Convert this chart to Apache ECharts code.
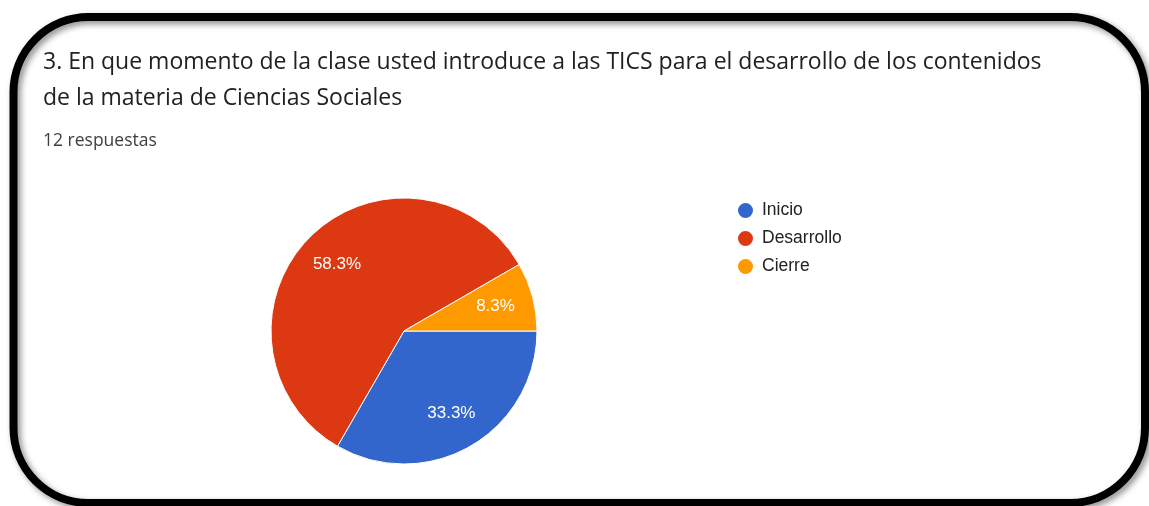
<!DOCTYPE html>
<html>
<head>
<meta charset="utf-8">
<script src="https://cdn.jsdelivr.net/npm/echarts@6/dist/echarts.min.js"></script>
<style>
html,body{margin:0;padding:0;background:#fff;}
#chart{width:1149px;height:506px;}
</style>
</head>
<body>
<div id="chart"></div>
<script>
const titleLines = ["3. En que momento de la clase usted introduce a las TICS para el desarrollo de los contenidos", "de la materia de Ciencias Sociales"];
const subtitle = "12 respuestas";
const categories = ["Inicio", "Desarrollo", "Cierre"];
const counts = [4, 7, 1];
const colors = ["#3366cc", "#dc3912", "#ff9900"];

const pieData = categories.map((c, i) => ({ name: c, value: counts[i] }));
const center = [404, 331];
const radius = 133;

const chart = echarts.init(document.getElementById('chart'), null, { renderer: 'canvas' });
chart.setOption({
  backgroundColor: '#ffffff',
  animation: false,
  color: colors,
  title: {
    text: titleLines.join('\n'),
    subtext: subtitle,
    left: 38,
    top: 39,
    itemGap: 16,
    textStyle: { fontFamily: 'Open Sans', fontSize: 23, fontWeight: 'normal', color: '#202124', lineHeight: 36 },
    subtextStyle: { fontFamily: 'Open Sans', fontSize: 17.5, color: '#3c4043' }
  },
  legend: {
    orient: 'vertical',
    left: 731,
    top: 196,
    icon: 'circle',
    itemWidth: 17,
    itemHeight: 17,
    itemGap: 9,
    data: categories,
    textStyle: { fontFamily: 'Arial', fontSize: 17.5, color: '#222222', padding: [0, 0, 0, 3] }
  },
  graphic: [{
    type: 'rect',
    z: 100,
    silent: true,
    shape: { x: 13.5, y: 17, width: 1131.5, height: 486, r: 75 },
    style: { fill: 'none', stroke: '#000', lineWidth: 8, shadowBlur: 6, shadowOffsetX: 3, shadowOffsetY: 3, shadowColor: 'rgba(0,0,0,0.45)' }
  }],
  series: [{
    type: 'pie',
    center: center,
    radius: [0, radius],
    startAngle: 0,
    clockwise: true,
    data: pieData,
    label: { show: false },
    labelLine: { show: false },
    itemStyle: { borderColor: '#ffffff', borderWidth: 1 },
    emphasis: { disabled: true }
  }, {
    type: 'pie',
    center: center,
    radius: [0, radius * 1.38],
    startAngle: 0,
    clockwise: true,
    silent: true,
    legendHoverLink: false,
    data: pieData,
    itemStyle: { color: 'rgba(0,0,0,0)' },
    label: {
      show: true,
      position: 'inside',
      formatter: p => (p.value / counts.reduce((a, b) => a + b, 0) * 100).toFixed(1) + '%',
      color: '#ffffff',
      fontFamily: 'Arial',
      fontSize: 17
    },
    labelLine: { show: false },
    emphasis: { disabled: true }
  }]
});
</script>
</body>
</html>
